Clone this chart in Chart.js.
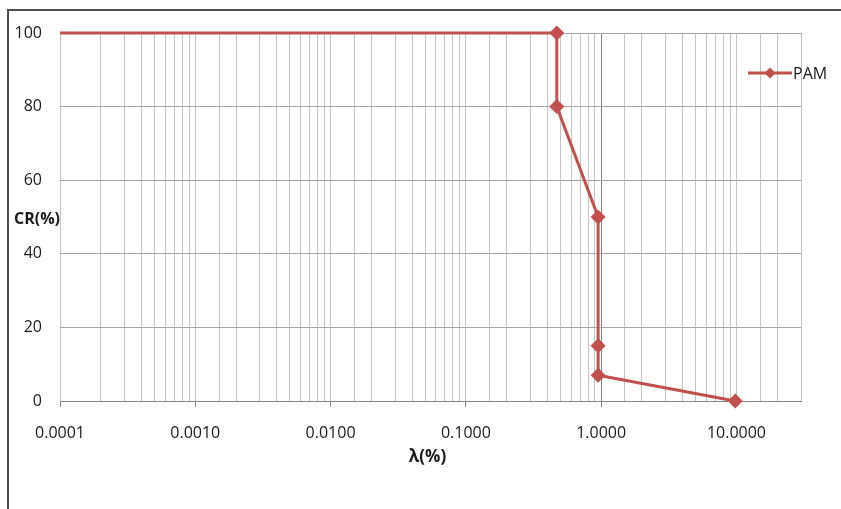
<!DOCTYPE html>
<html>
<head>
<meta charset="utf-8">
<script src="https://cdn.jsdelivr.net/npm/chart.js@4"></script>
<style>
  html, body { margin: 0; padding: 0; background: #fff; }
  #wrap { position: relative; width: 841px; height: 509px; }
  #frame { position: absolute; left: 7px; top: 9px; right: -4px; bottom: -4px;
           border-left: 2px solid #505050; border-top: 2px solid #505050; pointer-events: none; }
</style>
</head>
<body>
<div id="wrap">
  <canvas id="c" width="841" height="509"></canvas>
  <div id="frame"></div>
</div>
<script>
// ---- data ----
const seriesName = 'PAM';
const lambdaValues = [0.0001, 0.47, 0.47, 0.95, 0.95, 0.95, 9.8];   // λ(%)
const crValues     = [100,    100,  80,   50,   15,   7,    0];     // CR(%)
const yTicks = [0, 20, 40, 60, 80, 100];
const xMin = 0.0001, xMax = 30;
const xTitle = 'λ(%)';
const yTitle = 'CR(%)';

const RED = '#c0504d';
const FONT = "'Open Sans', sans-serif";

function isDecade(v) {
  const l = Math.log10(v);
  return Math.abs(l - Math.round(l)) < 1e-6;
}

const extras = {
  id: 'extras',
  afterDraw(chart) {
    const ctx = chart.ctx;
    ctx.save();
    ctx.fillStyle = '#1a1a1a';
    ctx.textAlign = 'center';
    ctx.textBaseline = 'middle';
    // y axis title (horizontal, like the reference)
    ctx.font = "bold 16px " + FONT;
    ctx.fillText(yTitle, 37, 219);
    // x axis title
    const xs = chart.scales.x;
    ctx.font = "bold 17px " + FONT;
    ctx.fillText(xTitle, (xs.left + xs.right) / 2 - 3, 457);
    // legend
    const ly = 73;
    ctx.strokeStyle = RED;
    ctx.lineWidth = 3;
    ctx.beginPath();
    ctx.moveTo(748, ly);
    ctx.lineTo(792, ly);
    ctx.stroke();
    ctx.fillStyle = RED;
    ctx.beginPath();
    ctx.moveTo(770, ly - 5.5);
    ctx.lineTo(775.5, ly);
    ctx.lineTo(770, ly + 5.5);
    ctx.lineTo(764.5, ly);
    ctx.closePath();
    ctx.fill();
    ctx.font = "16px " + FONT;
    ctx.fillStyle = '#1a1a1a';
    ctx.textAlign = 'left';
    ctx.fillText(seriesName, 793, ly + 1);
    ctx.restore();
  }
};

new Chart(document.getElementById('c'), {
  type: 'line',
  data: {
    datasets: [{
      label: seriesName,
      data: lambdaValues.map((x, i) => ({ x: x, y: crValues[i] })),
      borderColor: RED,
      backgroundColor: RED,
      borderWidth: 3,
      pointStyle: 'rectRot',
      pointRadius: lambdaValues.map((x, i) => i === 0 ? 0 : 7.5),
      pointHoverRadius: 7.5,
      pointBorderWidth: 0,
      tension: 0,
      clip: false
    }]
  },
  options: {
    responsive: false,
    animation: false,
    events: [],
    layout: { padding: { top: 33, right: 40, bottom: 0, left: 0 } },
    plugins: { legend: { display: false }, tooltip: { enabled: false } },
    scales: {
      x: {
        type: 'logarithmic',
        min: xMin,
        max: xMax,
        afterFit: s => { s.height = 108; },
        border: { display: true, color: '#868686', width: 1 },
        grid: {
          color: ctx => (ctx.tick && Math.abs(ctx.tick.value - 1) < 1e-9) ? '#868686' : '#c4c4c4',
          lineWidth: 1,
          drawTicks: true,
          tickLength: 6,
          tickColor: ctx => (ctx.tick && isDecade(ctx.tick.value)) ? '#868686' : 'rgba(0,0,0,0)'
        },
        ticks: {
          autoSkip: false,
          maxRotation: 0,
          minRotation: 0,
          padding: 17,
          color: '#1a1a1a',
          font: { family: FONT, size: 16 },
          callback: function (value) {
            return isDecade(value) ? Number(value).toFixed(4) : '';
          }
        }
      },
      y: {
        type: 'linear',
        min: 0,
        max: 100,
        afterFit: s => { s.width = 60; },
        afterBuildTicks: s => { s.ticks = yTicks.map(v => ({ value: v })); },
        border: { display: false },
        grid: { color: '#a6a6a6', lineWidth: 1, drawTicks: false },
        ticks: {
          padding: 18,
          color: '#1a1a1a',
          font: { family: FONT, size: 16 }
        }
      }
    }
  },
  plugins: [extras]
});
</script>
</body>
</html>
